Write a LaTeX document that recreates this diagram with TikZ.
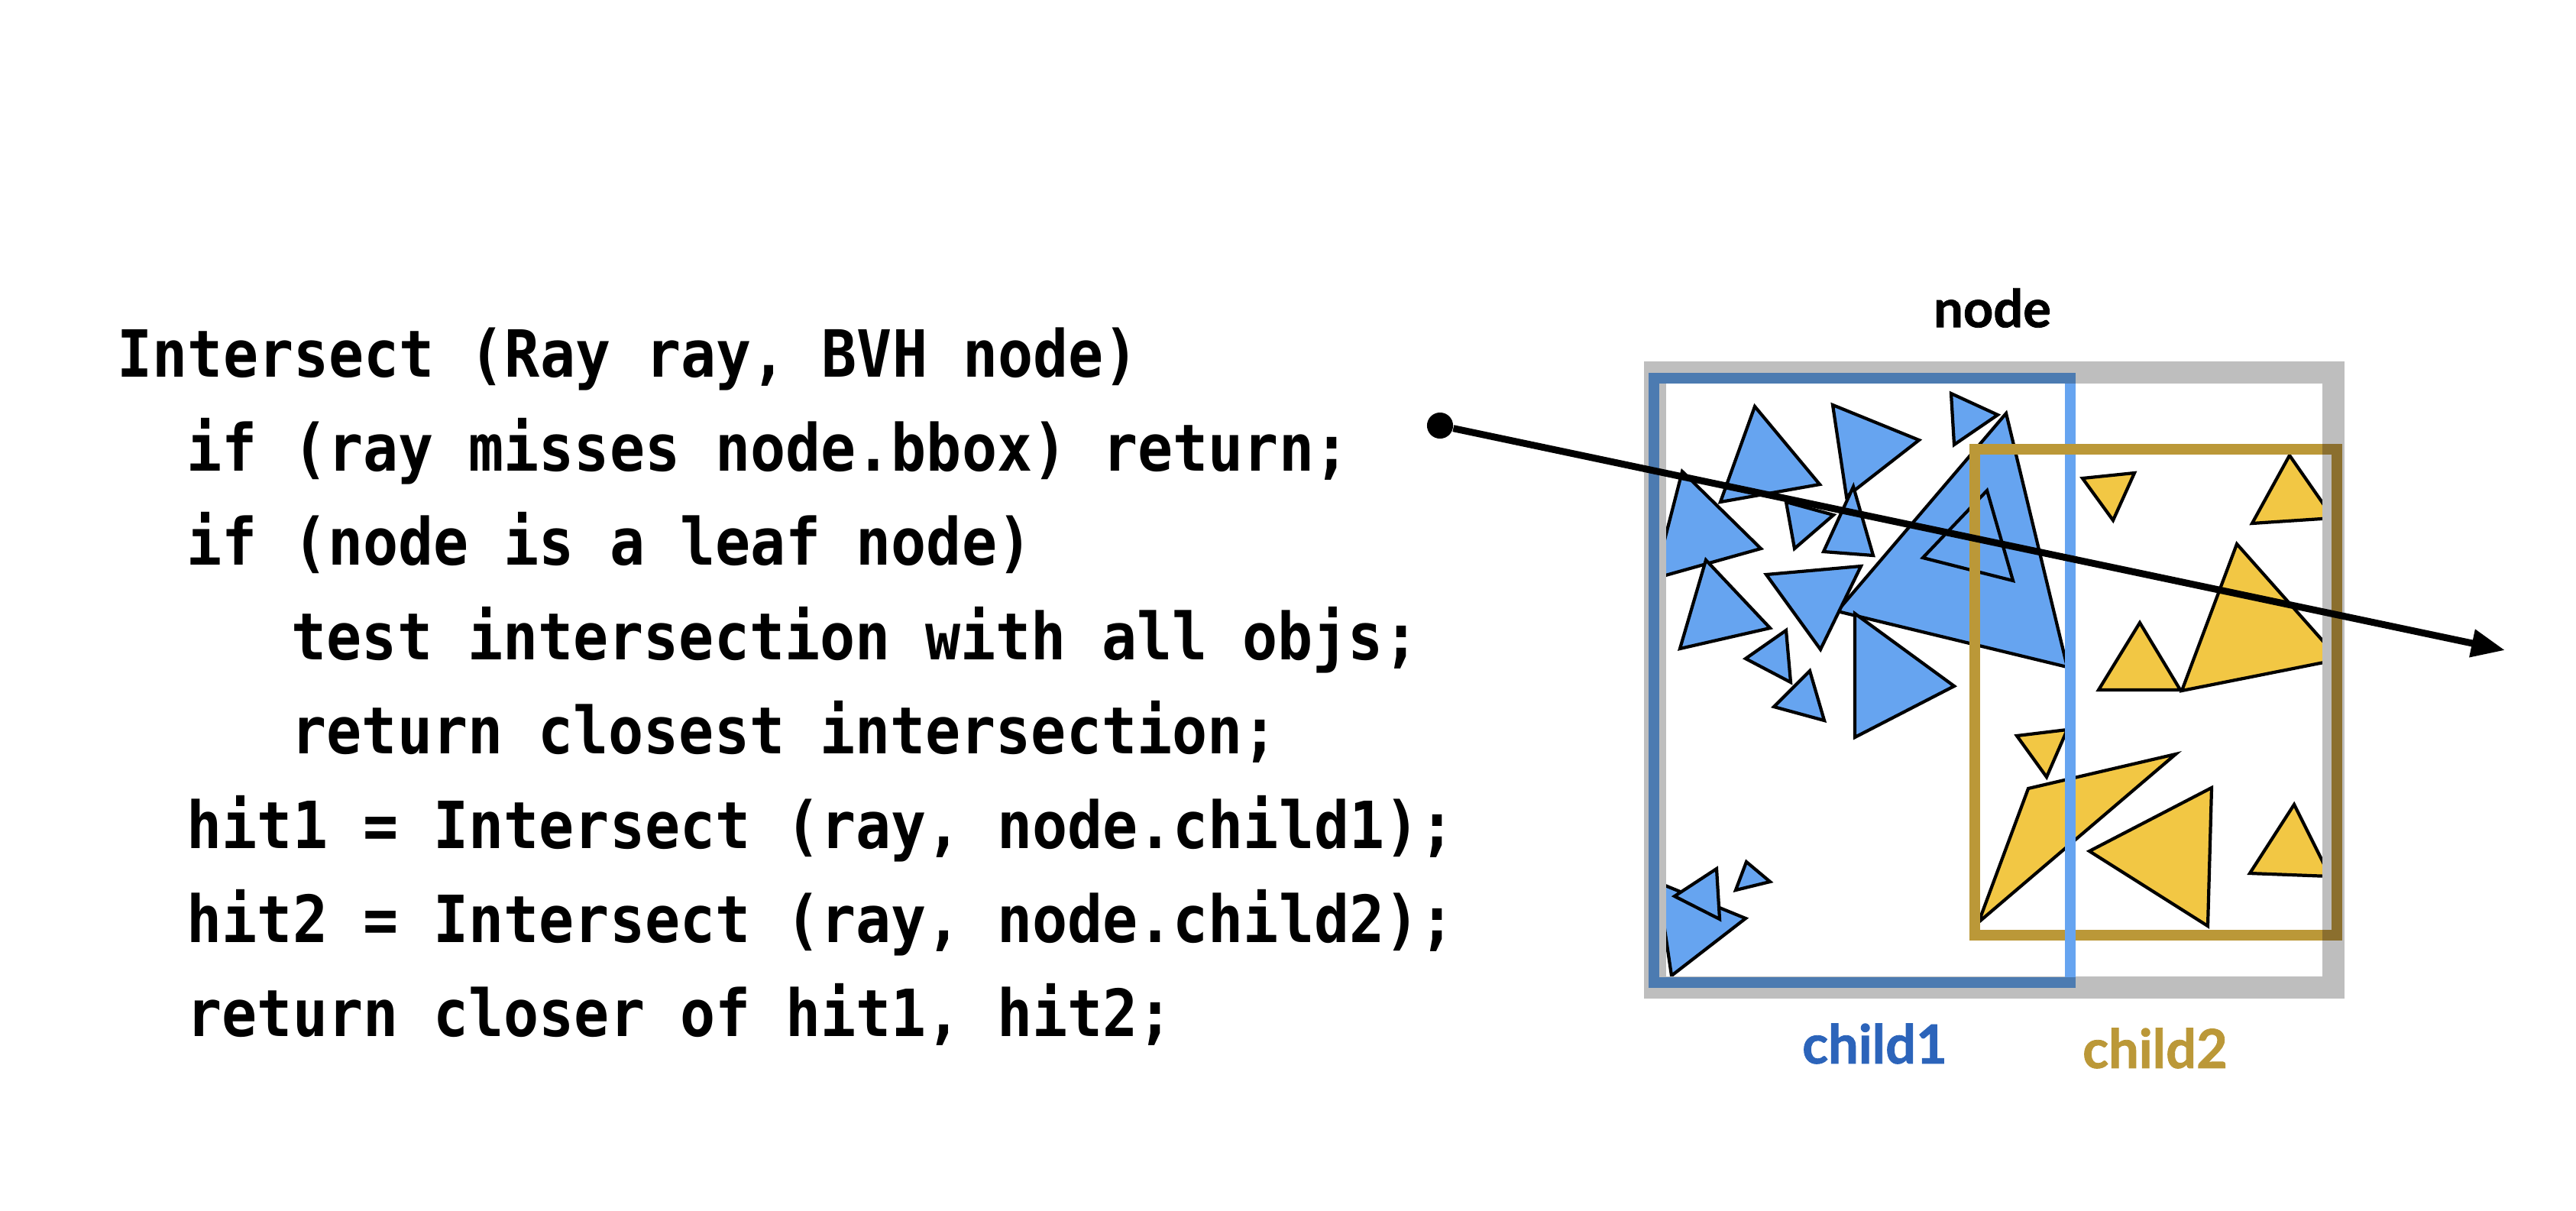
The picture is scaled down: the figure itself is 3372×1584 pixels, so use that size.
\documentclass[tikz,border=0pt]{standalone}
\usepackage{fontspec}
\setmonofont[FakeStretch=0.9]{DejaVu Sans Mono}
\newfontfamily\lblfont{Lato}[BoldFeatures={FakeBold=1.2}]
\usetikzlibrary{arrows.meta}
\definecolor{boxgray}{HTML}{BEBEBE}
\definecolor{bluelight}{HTML}{66A4F0}
\definecolor{bluedark}{HTML}{4C7BB1}
\definecolor{goldc}{HTML}{BB9838}
\definecolor{golddark}{HTML}{8B6F2E}
\definecolor{triyellow}{HTML}{F2C744}
\definecolor{childblue}{HTML}{2C64BA}
\begin{document}
\begin{tikzpicture}[x=0.01cm,y=-0.01cm,
  codeline/.style={anchor=base west, inner sep=0pt, font=\ttfamily\bfseries\fontsize{24.2pt}{28pt}\selectfont},
  lbl/.style={inner sep=0pt, font=\lblfont\bfseries\fontsize{20pt}{24pt}\selectfont},
  btri/.style={fill=bluelight, draw=black, line width=1.2pt},
  ytri/.style={fill=triyellow, draw=black, line width=1.2pt},
  boxline/.style={line width=3.98pt}]
\useasboundingbox (0,0) rectangle (3372,1584);

% code
\node[codeline] (l1) at (153,493) {Intersect (Ray ray, BVH node)};
\node[codeline] (l2) at (244,616.4) {if (ray misses node.bbox) return;};
\node[codeline] (l3) at (244,739.8) {if (node is a leaf node)};
\node[codeline] (l4) at (381,863.2) {test intersection with all objs;};
\node[codeline] (l5) at (381,986.6) {return closest intersection;};
\node[codeline] (l6) at (244,1110) {hit1 = Intersect (ray, node.child1);};
\node[codeline] (l7) at (244,1233.4) {hit2 = Intersect (ray, node.child2);};
\node[codeline] (l8) at (244,1356.8) {return closer of hit1, hit2;};

% blue triangles
\draw[btri] (2297,532) -- (2382,634) -- (2252,657) -- cycle;
\draw[btri] (2399,530) -- (2512,576) -- (2417,650) -- cycle;
\draw[btri] (2554,515) -- (2615,543) -- (2558,582) -- cycle;
\draw[btri] (2626,541) -- (2706,873) -- (2405,800) -- cycle;
\draw[btri] (2601,642) -- (2635,760) -- (2517,730) -- cycle;
\draw[btri] (2338,657) -- (2400,674) -- (2349,718) -- cycle;
\draw[btri] (2426,637) -- (2452,727) -- (2387,722) -- cycle;
\draw[btri] (2202,617) -- (2305,718) -- (2166,757) -- cycle;
\draw[btri] (2233,733) -- (2317,822) -- (2199,849) -- cycle;
\draw[btri] (2312,752) -- (2436,741) -- (2383,850) -- cycle;
\draw[btri] (2338,825) -- (2344,893) -- (2285,862) -- cycle;
\draw[btri] (2369,878) -- (2388,943) -- (2322,925) -- cycle;
\draw[btri] (2428,803) -- (2558,898) -- (2428,965) -- cycle;
\draw[btri] (2170,1155) -- (2285,1202) -- (2188,1277) -- cycle;
\draw[btri] (2247,1137) -- (2251,1203) -- (2192,1173) -- cycle;
\draw[btri] (2286,1128) -- (2317,1154) -- (2272,1165) -- cycle;

% yellow triangles
\draw[ytri] (2726,626) -- (2794,619) -- (2766,681) -- cycle;
\draw[ytri] (2997,596) -- (3054,678) -- (2948,685) -- cycle;
\draw[ytri] (2928,712) -- (3062,863) -- (2856,904) -- cycle;
\draw[ytri] (2801,815) -- (2854,903) -- (2747,903) -- cycle;
\draw[ytri] (2640,963) -- (2706,955) -- (2679,1017) -- cycle;
\draw[ytri] (2655,1032) -- (2848,987) -- (2590,1207) -- cycle;
\draw[ytri] (2735,1114) -- (2895,1031) -- (2890,1212) -- cycle;
\draw[ytri] (3003,1053) -- (3050,1147) -- (2945,1143) -- cycle;

% boxes
\draw[boxgray, line width=8.25pt] (2166,487.5) rectangle (3054,1292.5);
\draw[bluedark, boxline] (2165,494.5) rectangle (2710,1286);
\draw[goldc, boxline] (2585,587.5) rectangle (3059,1223.5);
\begin{scope}
  \clip (3040,560) rectangle (3080,1250);
  \draw[golddark, boxline] (2585,587.5) rectangle (3059,1223.5);
\end{scope}
\begin{scope}
  \clip (2180,502) rectangle (3040,1278);
  \draw[bluelight, boxline] (2165,494.5) rectangle (2710,1286);
\end{scope}
\draw[goldc, boxline] (2698,587.5) -- (2722,587.5);

% labels
\node[lbl, font=\lblfont\bfseries\fontsize{19.5pt}{22pt}\selectfont] (nodelbl) at (2608,403) {node};
\node[lbl, text=childblue] (c1lbl) at (2454,1366) {child1};
\node[lbl, text=goldc] (c2lbl) at (2821,1372) {child2};

% ray
\node[circle, fill=black, inner sep=0pt, minimum size=9.7pt] (src) at (1885,557) {};
\coordinate (tip) at (3279,851);
\draw[line width=2.56pt, -{Triangle[length=12.5pt,width=10pt]}] (src) -- (tip);
\end{tikzpicture}
\end{document}
